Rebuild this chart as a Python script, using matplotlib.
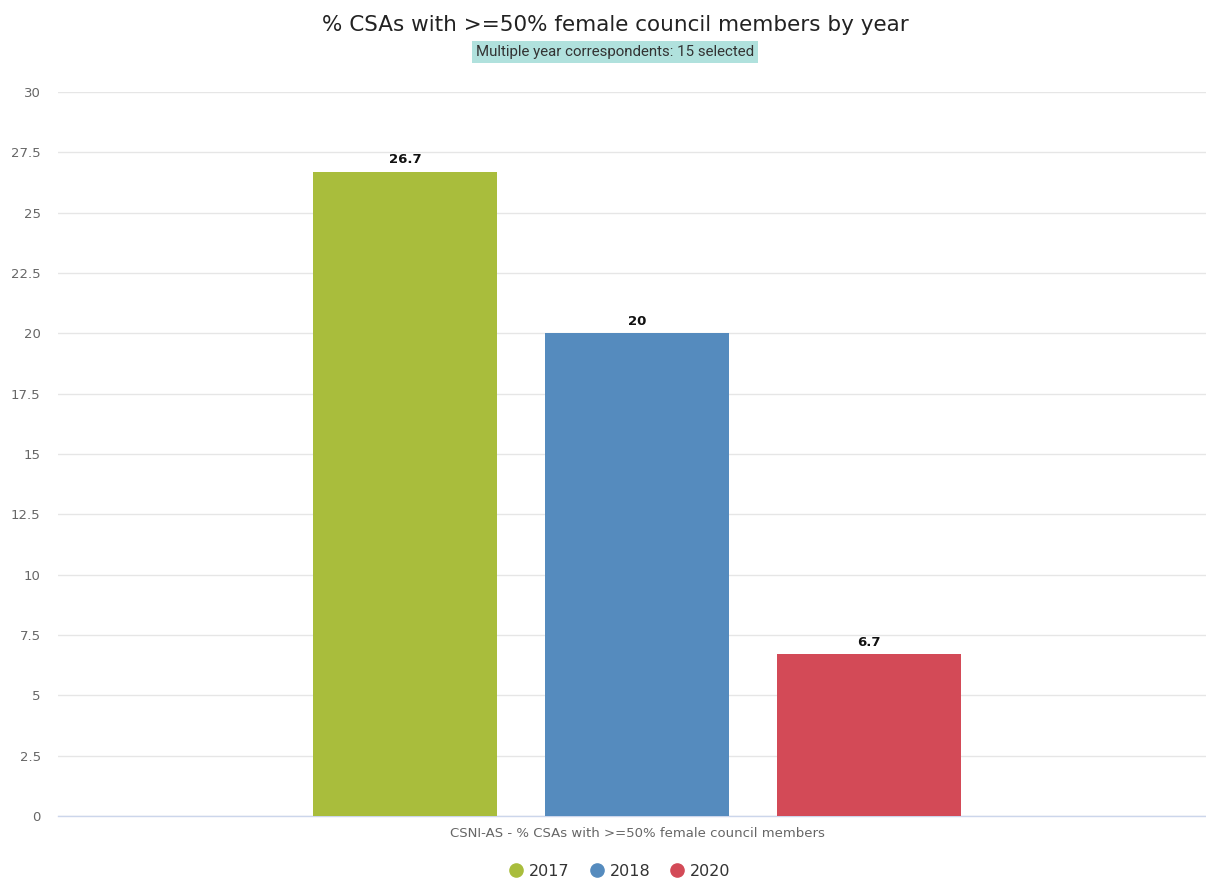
import matplotlib
matplotlib.use("Agg")
import matplotlib.pyplot as plt
from matplotlib.lines import Line2D

# Chart data
years = ["2017", "2018", "2020"]
values = [26.7, 20, 6.7]
colors = ["#a9bd3c", "#558bbe", "#d34a57"]
yticks = [0, 2.5, 5, 7.5, 10, 12.5, 15, 17.5, 20, 22.5, 25, 27.5, 30]
ytick_labels = ["0", "2.5", "5", "7.5", "10", "12.5", "15", "17.5", "20", "22.5", "25", "27.5", "30"]
category = "CSNI-AS - % CSAs with >=50% female council members"
title = "% CSAs with >=50% female council members by year"
subtitle = "Multiple year correspondents: 15 selected"

W, H = 1206, 880
fig = plt.figure(figsize=(W / 100, H / 100), dpi=100)
fig.patch.set_facecolor("white")

# Plot area in pixel units
left, right, top, bottom = 58, 1216, 92, 816
ax = fig.add_axes([left / W, 1 - bottom / H, (right - left) / W, (bottom - top) / H])
ax.set_xlim(-0.5, 0.5)
ax.set_ylim(0, 30)

bar_w = 0.159
step = 0.2
n = len(years)
for i, (yr, v, c) in enumerate(zip(years, values, colors)):
    x = (i - (n - 1) / 2) * step
    ax.bar(x, v, width=bar_w, color=c, zorder=3, label=yr)
    ax.annotate(f"{v:g}", (x, v), xytext=(0, 4), textcoords="offset points",
                ha="center", va="bottom", fontsize=9.5, fontweight="bold",
                color="#111111", zorder=4)

ax.set_yticks(yticks)
ax.set_yticklabels(ytick_labels)
ax.grid(axis="y", color="#e6e6e6", linewidth=1, zorder=0)
ax.set_xticks([])
for s in ["top", "right", "left"]:
    ax.spines[s].set_visible(False)
ax.spines["bottom"].set_color("#ccd6eb")
ax.spines["bottom"].set_linewidth(1)
ax.tick_params(axis="y", length=0, pad=12.5, labelsize=9.5, labelcolor="#666666")

ax.set_xlabel(category, fontsize=9.5, color="#666666", labelpad=8)

fig.text(615 / W, 1 - 25 / H, title, ha="center", va="center", fontsize=15.5, color="#222222")
fig.text(615 / W, 1 - 52 / H, subtitle, ha="center", va="center", fontsize=10.8,
         family="Roboto", color="#333333",
         bbox=dict(boxstyle="square,pad=0.28", facecolor="#b0e1dd", edgecolor="none"))

handles = [Line2D([], [], marker="o", linestyle="none", markersize=9.5,
                  markerfacecolor=c, markeredgecolor=c) for c in colors]
fig.legend(handles, years, loc="center", bbox_to_anchor=(617 / W, 1 - 871 / H),
           ncol=3, frameon=False, fontsize=11.5, handletextpad=0.0, columnspacing=0.9,
           handlelength=1.6, labelcolor="#333333")

fig.savefig("out.png", dpi=100)
